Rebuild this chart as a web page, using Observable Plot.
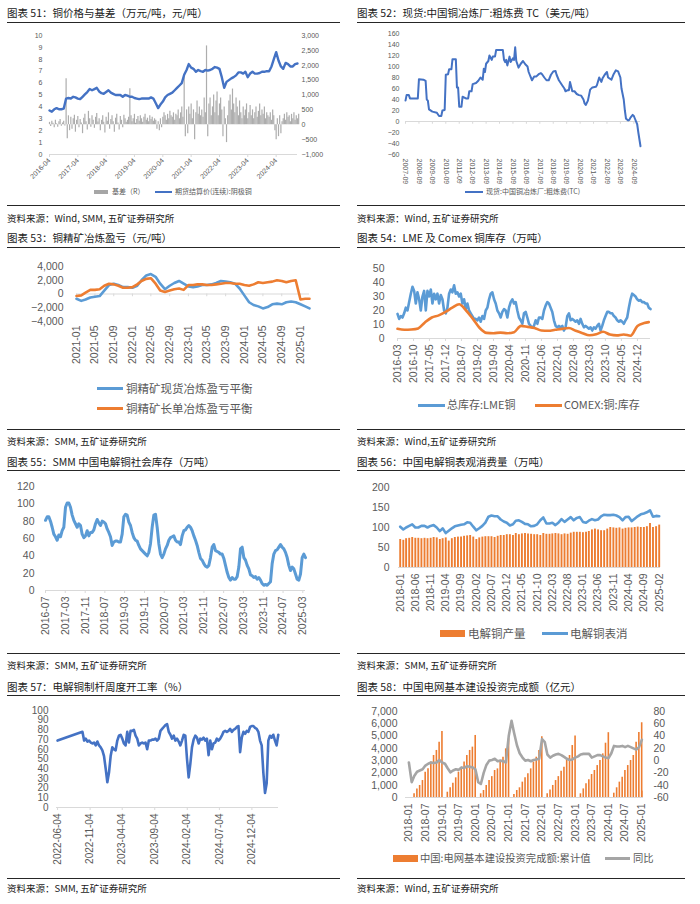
<!DOCTYPE html>
<html><head><meta charset="utf-8">
<script src="https://cdn.jsdelivr.net/npm/d3@7"></script>
<script src="https://cdn.jsdelivr.net/npm/@observablehq/plot@0.6"></script>
<style>
body{margin:0;background:#fff;}
#page{position:relative;width:700px;height:904px;overflow:hidden;background:#fff;}
.t{position:absolute;white-space:nowrap;font-family:"Noto Sans CJK SC",sans-serif;color:#1a1a1a;}
.r{position:absolute;height:1.4px;background:#262626;}
.b{position:absolute;}
.lt{position:absolute;white-space:nowrap;font-family:"Noto Sans CJK SC",sans-serif;color:#595959;}
</style></head>
<body><div id="page"></div>
<script>
// ---------------- DATA ----------------
// Panel 51: copper price (万元/吨), monthly from 2016-04
const priceStart = "2016-04";
const priceValues = [3.7,3.6,3.8,3.9,3.8,3.8,3.85,4.7,4.75,4.7,4.85,4.8,
 4.7,4.65,4.85,5.05,5.25,5.5,5.4,5.5,5.6,5.3,5.15,5.1,
 5.25,5.4,5.2,5.1,5.0,5.0,5.0,4.85,5.0,4.95,4.85,4.85,
 4.75,4.7,4.65,4.7,4.7,4.7,4.7,4.8,4.7,4.3,3.9,4.2,
 4.45,4.8,5.0,5.1,5.2,5.4,5.6,5.8,6.0,6.7,7.1,7.6,
 7.3,7.2,6.95,7.1,7.0,6.95,7.1,7.05,7.1,7.2,7.35,7.3,
 7.2,6.5,5.6,6.1,6.25,6.4,6.5,6.65,6.9,6.9,6.8,6.95,
 6.5,6.8,6.95,6.8,6.8,6.85,6.95,6.95,7.0,7.0,7.4,8.0,
 8.6,7.9,7.4,7.2,7.7,7.6,7.4,7.4,7.6,7.65];
// basis (元/吨), semi-monthly from 2016-04
const basis2016 = [80,-60,120,50,-100,150,30,-80,100,180,-50,60,120,-40,1550,-470,300,-200];
const basis2017 = [250,-150,200,320,-250,150,280,-100,180,60,-300,220,350,100,-180,450,200,-80,300,150,-120,250,380,90];
const basis2018 = [200,-200,150,300,80,-280,250,120,400,-150,180,300,100,-250,220,350,60,-180,280,150,-100,320,200,80];
const basis2019 = [150,250,1210,300,100,200,350,50,180,280,120,300,200,80,250,350,150,220,100,300,180,250,120,200];
const basis2020 = [150,-150,100,-200,200,-100,250,400,300,150,350,200,450,300,250,400,150,350,300,500,200,400,600,250];
const basis2021 = [1650,-400,500,-300,600,350,700,200,500,-500,400,800,350,600,300,500,250,900,400,2650,-400,700,900,300];
const basis2022 = [600,1000,400,800,1100,300,700,900,500,-400,600,200,-600,300,800,1000,500,1200,700,400,900,600,300,800];
const basis2023 = [400,200,600,300,500,700,200,400,650,300,500,200,400,600,250,450,700,300,500,350,600,200,400,300];
const basis2024 = [250,400,150,500,300,-200,-500,200,-400,300,-300,100,200,350,150,400,250,300,100,350,200,400,150,300];
const basis2025 = [200,350];
const p51Ticks = ["2016-04","2017-04","2018-04","2019-04","2020-04","2021-04","2022-04","2023-04","2024-04"];
const p51Left = [0,1,2,3,4,5,6,7,8,9,10];
const p51Right = [-1000,-500,0,500,1000,1500,2000,2500,3000];

// Panel 52: TC (美元/吨), month offsets from 2007-09
const tcStart = "2007-09";
const tcMonth = [0,1,3,4,11,12,16,18,19,20,21,24,28,30,32,33,35,36,38,39,41,42,45,46,47,48,50,51,54,56,57,59,60,63,65,67,69,70,71,72,74,75,77,78,80,81,87,88,89,90,91,93,94,96,97,98,99,101,103,105,107,109,110,111,112,113,115,117,119,121,122,124,126,128,130,132,134,135,137,140,142,143,145,146,147,149,151,153,155,157,159,160,161,163,165,167,170,171,173,175,176,178,180,181,184,186,188,190,192,193,195,196,197,199,200,201,203,204,205,207,208,210];
const tcValue = [38,48,48,42,42,77,76,74,40,38,22,18,16,10,10,20,21,85,86,95,95,113,113,62,62,27,27,45,42,42,55,55,68,70,74,80,76,96,90,105,110,120,112,118,118,130,130,112,108,112,102,118,108,115,112,135,110,98,105,110,104,100,90,85,80,75,82,82,86,88,86,80,75,75,85,91,92,85,75,66,60,55,57,57,72,55,55,50,48,47,40,33,30,38,58,62,63,66,80,72,78,85,90,80,76,86,93,91,80,60,40,20,5,2,3,7,12,10,5,-5,-20,-45];
const p52Ticks = ["2007-09","2008-09","2009-09","2010-09","2011-09","2012-09","2013-09","2014-09","2015-09","2016-09","2017-09","2018-09","2019-09","2020-09","2021-09","2022-09","2023-09","2024-09"];
const p52Y = [-60,-40,-20,0,20,40,60,80,100,120,140,160];

// Panel 53: smelting balance (元/吨), monthly from 2021-01
const smeltStart = "2021-01";
const spotBalance = [-700,-1000,-800,-500,-400,-300,500,1300,1500,1300,1000,1000,
 900,1200,2000,2700,2900,2500,1500,700,1200,1600,1900,1500,
 1100,1000,1100,1300,1300,1400,1600,1900,1800,1700,1500,800,
 -200,-1200,-1600,-1800,-2100,-1900,-1500,-1400,-1500,-1200,-1100,-1200,
 -1500,-1800,-2100];
const longBalance = [-300,-200,200,600,600,700,1200,1500,1400,1200,900,900,
 1000,1400,1900,2200,2300,1500,500,300,500,700,800,600,
 1300,1300,1400,1400,1300,1300,1400,1500,1600,1600,1500,1500,
 1300,1200,1400,1700,1600,1700,1800,2000,1900,1700,1900,2000,
 -800,-700,-700];
const p53Ticks = ["2021-01","2021-05","2021-09","2022-01","2022-05","2022-09","2023-01","2023-05","2023-09","2024-01","2024-05","2024-09","2025-01"];
const p53Y = [-4000,-2000,0,2000,4000];

// Panel 54: LME (evenly sampled 2016-03-01 .. 2025-05-24) and COMEX (month offsets from 2016-03), 万吨
const lmeSpan = ["2016-03-01","2025-05-24"];
const lmeValues = [17.6,14,16,15,18,22,20,26,32,37,34,25,33,28,20,30,34,20,34,30,35,25,32,28,32,25,31,28,20,18,22,32,35,33,38,32,33,30,32,25,28,21,25,20,18,16,14,14,13,15,12,16,14,20,22,28,32,33,28,25,20,18,15,19,21,20,15,22,26,28,25,26,20,15,13,10.5,18,19,15,10.5,9,8,9,13,10.5,15,15,14,20,23.5,26,25,22,19,13,9,8,9,8,9,5.7,8,16,18,13,14,13,12,13,10.5,14,10.5,8,9,8,7,8,5.7,8,7,9,10.5,5.7,9,13,16,19,19,18,18,16,15,13,12,13,12,10.5,13,15,22,28,32,31,30,28,27,27.5,26,26,25,25,22,21];
const comexMonth = [0,3,6,9,12,15,18,21,24,27,30,33,36,39,42,45,48,51,54,57,60,63,66,69,72,75,78,81,84,87,90,93,96,99,102,105,108,110];
const comexValue = [6.9,6.2,6.4,7.2,11.5,15,16.5,19,22,24.5,20,14,7.5,4,3.8,4.2,3.8,4.5,9,8.3,7.5,5.7,5.5,6.2,6.9,7.5,5.5,3.8,2.3,3,4.8,2.8,2.2,2.9,2,9,11,11.7];
const p54Ticks = ["2016-03","2016-10","2017-05","2017-12","2018-07","2019-02","2019-09","2020-04","2020-11","2021-06","2022-01","2022-08","2023-03","2023-10","2024-05","2024-12"];
const p54Y = [0,10,20,30,40,50];

// Panel 55: SMM social inventory (万吨), evenly sampled 2016-07-01 .. 2025-04-03
const invSpan = ["2016-07-01","2025-04-03"];
const invValues = [81,85,85,80,73,65,62,58,64,62,69,73,96,101,101,96,87,81,77,73,77,75,65,61,63,69,63,67,67,70,77,82,78,75,80,79,77,71,67,62,52,56,57,57,56,56,65,85,88,87,79,75,67,61,58,57,52,48,46,44,42,40,44,54,73,87,88,73,54,42,38,42,48,52,58,61,62,63,58,56,56,53,63,69,70,73,75,73,69,63,58,52,44,37,35,31,28,27,29,38,50,53,46,45,44,42,42,37,29,21,15,12,15,13,13,16,27,48,50,38,35,29,25,18,17,15,16,13,15,12,8,6,7,6,8,10,31,42,46,47,50,53,50,48,44,38,29,23,27,25,19,13,12,19,38,42,38];
const p55Ticks = ["2016-07","2017-03","2017-11","2018-07","2019-03","2019-11","2020-07","2021-03","2021-11","2022-07","2023-03","2023-11","2024-07","2025-03"];
const p55Y = [0,20,40,60,80,100,120];

// Panel 56: production & apparent consumption (万吨), monthly from 2018-01
const consStart = "2018-01";
const production = [70,68,72,73,75,73,73,72,73,72,73,75,
 74,70,72,74,66,72,75,76,76,78,79,80,
 76,70,74,76,77,77,77,75,78,80,80,82,
 82,80,85,82,84,85,84,83,82,82,80,85,
 83,83,84,85,84,82,84,83,86,88,88,88,
 87,88,90,94,96,94,92,92,96,100,99,98,
 99,96,98,99,99,100,101,100,100,102,110,100,
 102,106];
const apparent = [102,95,100,104,108,100,100,104,104,100,104,106,
 100,91,98,86,92,98,103,105,107,108,113,112,
 102,93,98,104,112,127,130,128,128,120,115,112,
 105,108,117,118,114,109,108,103,104,108,118,125,
 110,110,112,106,112,121,114,120,126,118,124,126,
 114,112,117,121,118,120,128,132,131,131,132,130,
 126,118,126,127,116,122,128,133,135,138,143,127,
 129,128];
const p56Ticks = ["2018-01","2018-06","2018-11","2019-04","2019-09","2020-02","2020-07","2020-12","2021-05","2021-10","2022-03","2022-08","2023-01","2023-06","2023-11","2024-04","2024-09","2025-02"];
const p56Y = [0,50,100,150,200];

// Panel 57: rod operating rate (%), first point 2022-06-04 then evenly sampled 2022-09-29 .. 2025-04-07
const rodFirst = {date:"2022-06-04", value:69};
const rodSpan = ["2022-09-29","2025-04-07"];
const rodValues = [78,69,71,68,69,67,66,67,64,68,64,62,59,53,40,26,36,53,62,60,59,69,74,75,71,66,64,78,67,79,79,80,74,71,64,66,67,66,67,60,69,69,70,70,71,69,71,79,81,83,85,86,78,75,71,74,69,71,68,64,69,75,74,50,31,45,62,70,74,72,66,71,70,72,69,71,54,69,60,66,67,71,69,71,74,78,79,78,79,81,78,80,81,83,84,57,72,78,76,79,78,83,84,84,82,81,78,69,64,36,15,25,69,74,72,75,69,64,75];
const p57Ticks = ["2022-06-04","2022-11-04","2023-04-04","2023-09-04","2024-02-04","2024-07-04","2024-12-04"];
const p57Y = [0,10,20,30,40,50,60,70,80,90,100];

// Panel 58: grid investment cumulative (亿元), Feb..Dec per year; YoY (%) monthly from 2018-01
const gridYears = [2018,2019,2020,2021,2022,2023,2024];
const gridCum = [
 [300,700,980,1380,2060,2330,2880,3420,3830,4500,5373],
 [430,790,1170,1600,2060,2330,2880,3420,3830,4100,5050],
 [300,570,980,1380,1700,2200,2330,2880,3280,3960,4775],
 [240,570,790,1250,1600,1930,2330,2880,3280,3830,4950],
 [300,620,980,1380,1700,2140,2470,3010,3420,4230,5012],
 [300,700,1110,1440,1870,2200,2600,3010,3550,4420,5275],
 [350,790,1250,1650,2200,2600,3010,3420,4500,5300,6083]];
const grid2025 = {month:"2025-01", value:520};
const yoyStart = "2018-01";
const yoyValues = [-3,-35,-25,-18,-16,-14,-8,-5,-3,-4,-3,1,
 -3,-5,-12,-19,-16,-14,-15,-11,-12,-9,-10,-11,
 -14,-35,-38,-20,-7,0,1,3,-1,0,-1,-3,
 40,65,45,25,12,5,0,1,-1,1,2,3,
 35,30,10,5,8,10,11,9,6,3,1,2,
 5,7,10,11,11,11,5,7,9,9,7,5,
 4,12,24,23,23,24,22,24,22,20,18,22,
 34];
const p58Ticks = ["2018-01","2018-07","2019-01","2019-07","2020-01","2020-07","2021-01","2021-07","2022-01","2022-07","2023-01","2023-07","2024-01","2024-07","2025-01"];
const p58Left = [0,1000,2000,3000,4000,5000,6000,7000];
const p58Right = [-60,-40,-20,0,20,40,60,80];

// ---------------- HELPERS ----------------
const page = document.getElementById("page");
const P = d3.utcParse("%Y-%m");
const PD = d3.utcParse("%Y-%m-%d");
const fYM = d3.utcFormat("%Y-%m");
const fYMD = d3.utcFormat("%Y-%m-%d");
const fmtC = d3.format(",");
function spread(span, values){const t0=+PD(span[0]),t1=+PD(span[1]),n=values.length;return values.map((v,i)=>({date:new Date(t0+(t1-t0)*i/(n-1)),value:v}));}
function monthly(start, values){return values.map((v,i)=>({date:d3.utcMonth.offset(P(start),i),value:v}));}
function place(node,left,top){node.style.position="absolute";node.style.left=left+"px";node.style.top=top+"px";page.appendChild(node);}
function div(cls,left,top,css,text){const d=document.createElement("div");d.className=cls;d.style.left=left+"px";d.style.top=top+"px";if(css)d.style.cssText+=css;if(text!=null)d.textContent=text;page.appendChild(d);return d;}
function style(fs){return {fontFamily:"'Liberation Sans',Arial,'Noto Sans CJK SC',sans-serif",fontSize:fs,color:"#595959",background:"transparent",overflow:"visible"};}
function legLine(x1,x2,y,color,w){div("b",x1,y-w/2,`width:${x2-x1}px;height:${w}px;background:${color};`);}
function legRect(x1,x2,y,h,color){div("b",x1,y-h/2,`width:${x2-x1}px;height:${h}px;background:${color};`);}
function legText(x,y,size,text){div("lt",x,y-size*0.7,`font-size:${size}px;line-height:${size*1.4}px;`,text);}

// frame texts
const titles=[["图表 51：铜价格与基差（万元/吨，元/吨）",7,13],["图表 52：现货:中国铜冶炼厂:粗炼费 TC（美元/吨）",357,13],
 ["图表 53：铜精矿冶炼盈亏（元/吨）",7,238],["图表 54：LME 及 Comex 铜库存（万吨）",357,238],
 ["图表 55：SMM 中国电解铜社会库存（万吨）",7,462],["图表 56：中国电解铜表观消费量（万吨）",357,462],
 ["图表 57：电解铜制杆周度开工率（%）",7,687],["图表 58：中国电网基本建设投资完成额（亿元）",357,687]];
titles.forEach(([t,x,y])=>div("t",x,y-8,"font-size:10.5px;line-height:16px;",t));
const sources=[["资料来源：Wind, SMM, 五矿证券研究所",7,218],["资料来源：Wind, 五矿证券研究所",357,218],
 ["资料来源：SMM, 五矿证券研究所",7,441],["资料来源：Wind,五矿证券研究所",357,441],
 ["资料来源：SMM, 五矿证券研究所",7,665],["资料来源：SMM, 五矿证券研究所",357,665],
 ["资料来源：SMM, 五矿证券研究所",7,888],["资料来源：Wind, 五矿证券研究所",357,888]];
sources.forEach(([t,x,y])=>div("t",x,y-7,"font-size:9.5px;line-height:14px;",t));
[[22,205],[247,429],[470,652.5],[695,877.5]].forEach(([a,b])=>{
  div("r",7,a,"width:333px;");div("r",357,a,"width:328px;");
  div("r",7,b,"width:333px;");div("r",357,b,"width:328px;");
});

// ---------------- PANEL 51 ----------------
{
const priceData = monthly(priceStart, priceValues);
const basisValues = [].concat(basis2016,basis2017,basis2018,basis2019,basis2020,basis2021,basis2022,basis2023,basis2024,basis2025);
const basisData = basisValues.map((v,i)=>({date:d3.utcDay.offset(d3.utcMonth.offset(P("2016-04"),Math.floor(i/2)),(i%2)*15),value:v}));
const yb = v => (v+1000)/400;
const ticks = p51Ticks.map(P);
place(Plot.plot({width:350,height:160,marginLeft:49,marginRight:53,marginTop:10,marginBottom:31,
  x:{type:"utc",domain:[P("2016-04"),P("2025-01")],label:null},y:{domain:[0,10],label:null},style:style("7px"),
  marks:[
    Plot.ruleX(basisData,{x:"date",y1:yb(0),y2:d=>yb(d.value),stroke:"#ADADAD",strokeWidth:1.2}),
    Plot.ruleY([0],{stroke:"#D9D9D9"}),
    Plot.line(priceData,{x:"date",y:"value",stroke:"#4472C4",strokeWidth:2.4}),
    Plot.axisY(p51Left,{anchor:"left",tickSize:0,tickPadding:7,label:null}),
    Plot.axisY(p51Right.map(yb),{anchor:"right",tickSize:0,tickPadding:4,label:null,tickFormat:d=>fmtC(Math.round(d*400-1000))}),
    Plot.axisX(ticks,{anchor:"bottom",tickFormat:fYM,tickRotate:-45,tickSize:3,stroke:"#D9D9D9",tickPadding:2,label:null})
  ]}),0,25);
legRect(94,108,192,4,"#A6A6A6"); legText(112,192,7,"基差（R）");
legLine(155,172,192,"#4472C4",2); legText(175,192,7,"期货结算价(连续):阴极铜");
}

// ---------------- PANEL 52 ----------------
{
const tcData = tcMonth.map((m,i)=>({date:d3.utcMonth.offset(P(tcStart),m),value:tcValue[i]}));
const ticks = p52Ticks.map(P);
place(Plot.plot({width:350,height:165,marginLeft:55,marginRight:60,marginTop:8,marginBottom:36,
  x:{type:"utc",domain:[P("2007-09"),P("2025-03")],label:null},y:{domain:[-60,160],label:null},style:style("7px"),
  marks:[
    Plot.ruleY([0],{stroke:"#D9D9D9"}),
    Plot.ruleX(ticks,{y1:0,y2:-5,stroke:"#D9D9D9"}),
    Plot.line(tcData,{x:"date",y:"value",stroke:"#4472C4",strokeWidth:2}),
    Plot.axisY(p52Y,{anchor:"left",tickSize:0,tickPadding:6,label:null}),
    Plot.axisX(ticks,{anchor:"bottom",tickFormat:fYM,tickRotate:90,tickSize:0,tickPadding:4,label:null})
  ]}),350,25);
legLine(465,483,192,"#4472C4",2); legText(486,192,7,"现货:中国铜冶炼厂:粗炼费(TC)");
}

// ---------------- PANEL 53 ----------------
{
const spot = monthly(smeltStart, spotBalance), lng = monthly(smeltStart, longBalance);
const ticks = p53Ticks.map(P);
place(Plot.plot({width:350,height:120,marginLeft:76,marginRight:41,marginTop:16,marginBottom:49,
  x:{type:"utc",domain:[P("2021-01"),P("2025-03")],label:null},y:{domain:[-4000,4000],label:null},style:style("10.5px"),
  marks:[
    Plot.ruleY([0],{stroke:"#D9D9D9"}),
    Plot.ruleX(ticks,{y1:0,y2:-400,stroke:"#D9D9D9"}),
    Plot.line(spot,{x:"date",y:"value",stroke:"#5B9BD5",strokeWidth:2.6}),
    Plot.line(lng,{x:"date",y:"value",stroke:"#ED7D31",strokeWidth:2.6}),
    Plot.axisY(p53Y,{anchor:"left",tickSize:0,tickPadding:13,label:null,tickFormat:fmtC}),
    Plot.axisX(ticks,{anchor:"bottom",tickFormat:fYM,tickRotate:-90,tickSize:0,tickPadding:4,label:null})
  ]}),0,250);
legLine(97,123,388,"#5B9BD5",3); legText(126,388,11.5,"铜精矿现货冶炼盈亏平衡");
legLine(97,123,408,"#ED7D31",3); legText(126,408,11.5,"铜精矿长单冶炼盈亏平衡");
}

// ---------------- PANEL 54 ----------------
{
const lme = spread(lmeSpan, lmeValues);
const comex = comexMonth.map((m,i)=>({date:d3.utcMonth.offset(P("2016-03"),m),value:comexValue[i]}));
const ticks = p54Ticks.map(P);
place(Plot.plot({width:350,height:135,marginLeft:47,marginRight:50,marginTop:13,marginBottom:52,
  x:{type:"utc",domain:[PD(lmeSpan[0]),PD(lmeSpan[1])],label:null},y:{domain:[0,50],label:null},style:style("10.5px"),
  marks:[
    Plot.ruleY([0],{stroke:"#D9D9D9"}),
    Plot.line(lme,{x:"date",y:"value",stroke:"#5B9BD5",strokeWidth:2.6}),
    Plot.line(comex,{x:"date",y:"value",stroke:"#ED7D31",strokeWidth:2.6,curve:"monotone-x"}),
    Plot.axisY(p54Y,{anchor:"left",tickSize:0,tickPadding:13,label:null}),
    Plot.axisX(ticks,{anchor:"bottom",tickFormat:fYM,tickRotate:-90,tickSize:3,stroke:"#D9D9D9",tickPadding:3,label:null})
  ]}),350,255);
legLine(418,445,405,"#5B9BD5",3); legText(447,405,11,"总库存:LME铜");
legLine(535,562,405,"#ED7D31",3); legText(564,405,11,"COMEX:铜:库存");
}

// ---------------- PANEL 55 ----------------
{
const inv = spread(invSpan, invValues);
const ticks = p55Ticks.map(P);
place(Plot.plot({width:350,height:167,marginLeft:45,marginRight:45,marginTop:11,marginBottom:52,
  x:{type:"utc",domain:[PD(invSpan[0]),PD(invSpan[1])],label:null},y:{domain:[0,120],label:null},style:style("10.5px"),
  marks:[
    Plot.ruleY([0],{stroke:"#D9D9D9"}),
    Plot.line(inv,{x:"date",y:"value",stroke:"#5B9BD5",strokeWidth:3}),
    Plot.axisY(p55Y,{anchor:"left",tickSize:0,tickPadding:11,label:null}),
    Plot.axisX(ticks,{anchor:"bottom",tickFormat:fYM,tickRotate:-90,tickSize:3,stroke:"#D9D9D9",tickPadding:3,label:null})
  ]}),0,475);
}

// ---------------- PANEL 56 ----------------
{
const prod = monthly(consStart, production), app = monthly(consStart, apparent);
const ticks = p56Ticks.map(P);
place(Plot.plot({width:350,height:147,marginLeft:48,marginRight:40,marginTop:12,marginBottom:55,
  x:{type:"utc",domain:[PD("2017-12-15"),PD("2025-02-14")],label:null},y:{domain:[0,200],label:null},style:style("10.5px"),
  marks:[
    Plot.ruleX(prod,{x:"date",y1:0,y2:"value",stroke:"#ED7D31",strokeWidth:1.9}),
    Plot.ruleY([0],{stroke:"#D9D9D9"}),
    Plot.line(app,{x:"date",y:"value",stroke:"#5B9BD5",strokeWidth:2.6}),
    Plot.axisY(p56Y,{anchor:"left",tickSize:0,tickPadding:9,label:null}),
    Plot.axisX(ticks,{anchor:"bottom",tickFormat:fYM,tickRotate:-90,tickSize:0,tickPadding:6,label:null})
  ]}),350,475);
legRect(440,465,633,7,"#ED7D31"); legText(468,633,11.5,"电解铜产量");
legLine(542,568,633,"#5B9BD5",3); legText(570,633,11.5,"电解铜表消");
}

// ---------------- PANEL 57 ----------------
{
const rod = [{date:PD(rodFirst.date),value:rodFirst.value}].concat(spread(rodSpan, rodValues));
const ticks = p57Ticks.map(PD);
place(Plot.plot({width:350,height:168,marginLeft:56,marginRight:72,marginTop:10,marginBottom:61,
  x:{type:"utc",domain:[PD("2022-05-30"),PD("2025-04-08")],label:null},y:{domain:[0,100],label:null},style:style("10px"),
  marks:[
    Plot.ruleY([0],{stroke:"#D9D9D9"}),
    Plot.line(rod,{x:"date",y:"value",stroke:"#4472C4",strokeWidth:2.6}),
    Plot.axisY(p57Y,{anchor:"left",tickSize:0,tickPadding:8,label:null}),
    Plot.axisX(ticks,{anchor:"bottom",tickFormat:fYMD,tickRotate:-90,tickSize:3,stroke:"#D9D9D9",tickPadding:3,label:null})
  ]}),0,700);
}

// ---------------- PANEL 58 ----------------
{
const bars = [];
gridYears.forEach((y,i)=>gridCum[i].forEach((v,j)=>bars.push({date:d3.utcDay.offset(new Date(Date.UTC(y,j+2,1)),-2),value:v})));
bars.push({date:d3.utcDay.offset(P(grid2025.month),-1),value:grid2025.value});
const yoy = monthly(yoyStart, yoyValues);
const yr = v => (v+60)*50;
const ticks = p58Ticks.map(P);
place(Plot.plot({width:350,height:146,marginLeft:55,marginRight:57,marginTop:11,marginBottom:49,
  x:{type:"utc",domain:[PD("2017-11-25"),PD("2025-01-19")],label:null},y:{domain:[0,7000],label:null},style:style("10.5px"),
  marks:[
    Plot.ruleX(bars,{x:"date",y1:0,y2:"value",stroke:"#ED7D31",strokeWidth:1.6}),
    Plot.ruleY([0],{stroke:"#D9D9D9"}),
    Plot.line(yoy,{x:"date",y:d=>yr(d.value),stroke:"#A5A5A5",strokeWidth:2.6}),
    Plot.axisY(p58Left,{anchor:"left",tickSize:0,tickPadding:8,label:null,tickFormat:fmtC}),
    Plot.axisY(p58Right.map(yr),{anchor:"right",tickSize:0,tickPadding:10,label:null,tickFormat:d=>Math.round(d/50-60)}),
    Plot.axisX(ticks,{anchor:"bottom",tickFormat:fYM,tickRotate:-90,tickSize:0,tickPadding:6,label:null})
  ]}),350,700);
legRect(393,418,858,7,"#ED7D31"); legText(420,858,10.3,"中国:电网基本建设投资完成额:累计值");
legLine(605,630,858,"#A5A5A5",3); legText(633,858,10.3,"同比");
}
</script></body></html>
